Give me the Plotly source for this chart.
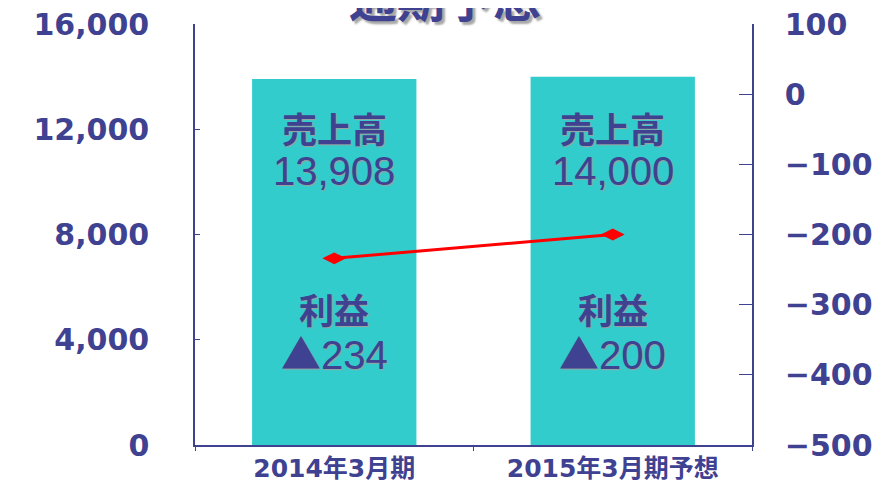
import plotly.graph_objects as go

categories = ["2014年3月期", "2015年3月期予想"]
sales = [13908, 14000]
profit = [-234, -200]
title_text = "通期予想"
sales_label = "売上高"
profit_label = "利益"

NAVY = "#3F4191"
TEAL = "#33CCCC"
LAT = "DejaVu Sans, Noto Sans CJK JP, sans-serif"
CJK = "Noto Sans CJK JP, DejaVu Sans, sans-serif"
NUM = "Liberation Sans, Arial, Noto Sans CJK JP, sans-serif"

fig = go.Figure()
fig.add_trace(go.Bar(x=categories, y=sales, marker=dict(color=TEAL, line=dict(width=0)),
                     width=0.59, hoverinfo="skip", showlegend=False))
fig.add_trace(go.Scatter(x=categories, y=profit, yaxis="y2", mode="lines+markers",
                         line=dict(color="#FF0000", width=3),
                         marker=dict(symbol="diamond-wide", size=17, color="#FF0000"),
                         showlegend=False))

shadow = "1px 1px 1px #A0A0A0"
ann = []
for c, s, p in zip(categories, sales, profit):
    ann.append(dict(x=c, xref="x", y=0.755, yref="paper", yanchor="middle", text=sales_label,
                    showarrow=False,
                    font=dict(family=CJK, size=35, color=NAVY, weight="bold", shadow=shadow)))
    ann.append(dict(x=c, xref="x", y=0.65, yref="paper", yanchor="middle", text=f"{s:,}",
                    showarrow=False,
                    font=dict(family=NUM, size=40, color=NAVY, shadow=shadow)))
    ann.append(dict(x=c, xref="x", y=0.325, yref="paper", yanchor="middle", text=profit_label,
                    showarrow=False,
                    font=dict(family=CJK, size=35, color=NAVY, weight="bold", shadow=shadow)))
    ann.append(dict(x=c, xref="x", y=0.222, yref="paper", yanchor="middle",
                    text=f"<span style='font-family:Noto Sans CJK JP'>▲</span>{abs(p)}",
                    showarrow=False,
                    font=dict(family=NUM, size=40, color=NAVY, shadow=shadow)))
ann.append(dict(x=0.449, xref="paper", y=1, yref="paper", yshift=28, yanchor="middle",
                text=title_text, showarrow=False,
                font=dict(family=CJK, size=48, color=NAVY, weight="bold",
                          shadow="3px 3px 2px #A8A8A8")))

fig.update_layout(
    width=890, height=485,
    margin=dict(l=187, r=146, t=16, b=48),
    paper_bgcolor="white", plot_bgcolor="white",
    annotations=ann,
    xaxis=dict(type="category", showline=True, linecolor=NAVY, linewidth=1.5,
               ticks="outside", ticklen=4, tickcolor=NAVY, tickson="boundaries",
               showgrid=False, zeroline=False, mirror=False, automargin=False,
               tickfont=dict(family=LAT, size=25, color=NAVY, weight="bold")),
    yaxis=dict(range=[0, 16000], dtick=4000, tickformat=",", showline=True,
               linecolor=NAVY, linewidth=1.5, ticks="inside", ticklen=5, tickcolor=NAVY,
               showgrid=False, zeroline=False, ticklabelstandoff=38, automargin=False,
               ticklabeloverflow="allow",
               tickfont=dict(family=LAT, size=30, color=NAVY, weight="bold")),
    yaxis2=dict(range=[-500, 100], dtick=100, overlaying="y", side="right",
                showline=True, linecolor=NAVY, linewidth=1.5, ticks="inside",
                ticklen=13, tickcolor=NAVY, showgrid=False, zeroline=False,
                ticklabelstandoff=25, automargin=False, ticklabeloverflow="allow",
                tickfont=dict(family=LAT, size=30, color=NAVY, weight="bold")),
)

fig.write_html("out.html")
